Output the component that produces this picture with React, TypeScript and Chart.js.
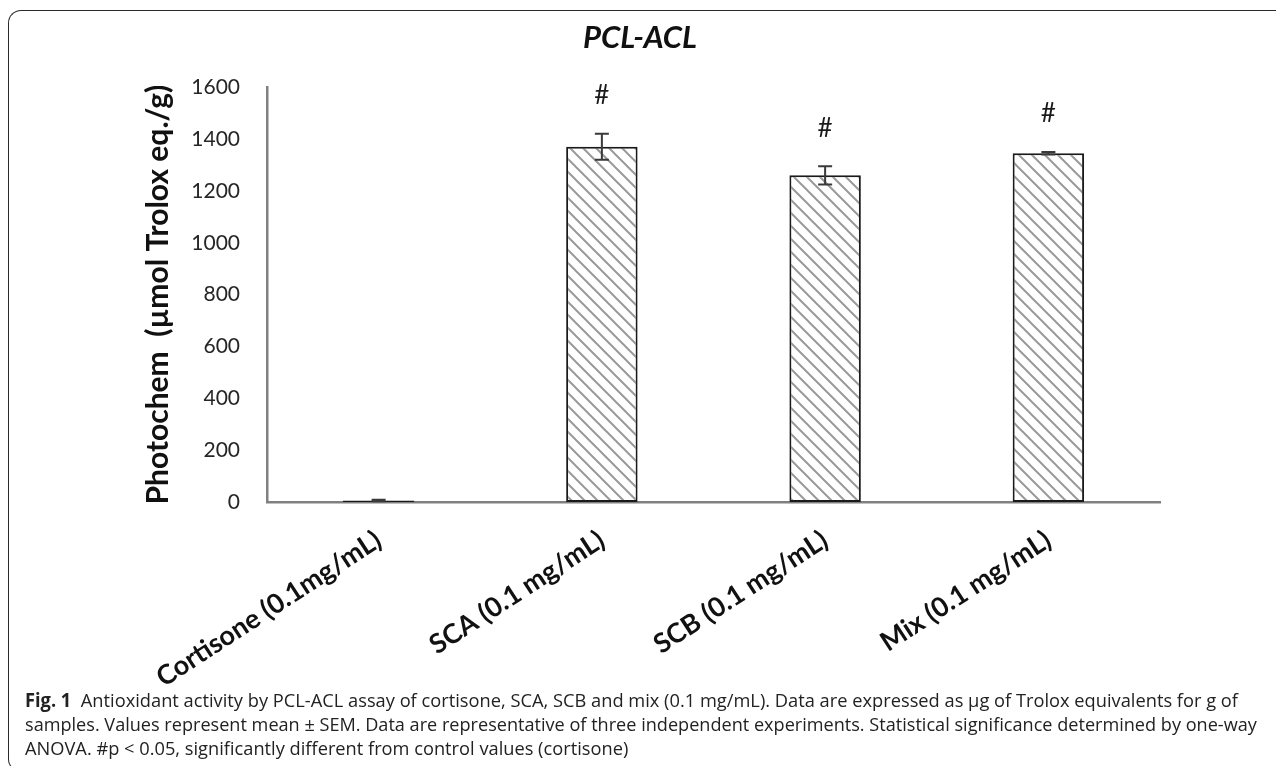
import React, { useEffect, useLayoutEffect, useRef } from "react";
import { Chart, registerables } from "chart.js";

Chart.register(...registerables);

const categories = ["Cortisone (0.1mg/mL)", "SCA (0.1 mg/mL)", "SCB (0.1 mg/mL)", "Mix (0.1 mg/mL)"];
const values = [6, 1370, 1260, 1345];
const sem = [3, 50, 35, 5];
const significance = ["", "#", "#", "#"];
const yMin = 0;
const yMax = 1600;
const yStep = 200;
const chartTitle = "PCL-ACL";
const yTitle = "Photochem  (µmol Trolox eq./g)";

const captionLines = [
  { bold: "Fig. 1", text: "  Antioxidant activity by PCL-ACL assay of cortisone, SCA, SCB and mix (0.1 mg/mL). Data are expressed as µg of Trolox equivalents for g of", width: 1213 },
  { bold: "", text: "samples. Values represent mean ± SEM. Data are representative of three independent experiments. Statistical significance determined by one-way", width: 1232 },
  { bold: "", text: "ANOVA. #p < 0.05, significantly different from control values (cortisone)", width: 603 },
];

function makeHatch(): CanvasPattern | string {
  const s = 13;
  const c = document.createElement("canvas");
  c.width = s;
  c.height = s;
  const g = c.getContext("2d");
  if (!g) return "#fff";
  g.fillStyle = "#ffffff";
  g.fillRect(0, 0, s, s);
  g.strokeStyle = "#9a9a9a";
  g.lineWidth = 2;
  g.beginPath();
  g.moveTo(-2, -2);
  g.lineTo(s + 2, s + 2);
  g.moveTo(s - 3, -3);
  g.lineTo(s + 3, 3);
  g.moveTo(-3, s - 3);
  g.lineTo(3, s + 3);
  g.stroke();
  const p = g.createPattern(c, "repeat");
  return p || "#fff";
}

const errorBarPlugin = {
  id: "errorBars",
  afterDatasetsDraw(chart: any) {
    const { ctx, scales } = chart;
    const meta = chart.getDatasetMeta(0);
    const y = scales.y;
    ctx.save();
    meta.data.forEach((bar: any, i: number) => {
      const x = bar.x;
      const top = y.getPixelForValue(values[i] + sem[i]);
      const bot = y.getPixelForValue(values[i] - sem[i]);
      ctx.strokeStyle = "#3a3a3a";
      ctx.lineWidth = 2;
      ctx.beginPath();
      ctx.moveTo(x, top);
      ctx.lineTo(x, bot);
      ctx.moveTo(x - 7, top);
      ctx.lineTo(x + 7, top);
      ctx.moveTo(x - 7, bot);
      ctx.lineTo(x + 7, bot);
      ctx.stroke();
      if (significance[i]) {
        ctx.fillStyle = "#1a1a1a";
        ctx.font = "26px Lato";
        ctx.textAlign = "center";
        ctx.textBaseline = "middle";
        ctx.fillText(significance[i], x, top - 38);
      }
    });
    ctx.restore();
  },
};

function Caption() {
  const refs = useRef<(HTMLDivElement | null)[]>([]);
  useLayoutEffect(() => {
    refs.current.forEach((el, i) => {
      if (!el) return;
      el.style.transform = "none";
      const w = el.scrollWidth;
      if (w > 0) el.style.transform = `scaleX(${captionLines[i].width / w})`;
    });
  }, []);
  return (
    <>
      {captionLines.map((l, i) => (
        <div
          key={i}
          ref={(el) => {
            refs.current[i] = el;
          }}
          style={{
            position: "absolute",
            left: 17,
            top: 680 + i * 24,
            whiteSpace: "pre",
            fontFamily: "'Open Sans', sans-serif",
            fontSize: 19,
            lineHeight: "24px",
            color: "#222",
            transformOrigin: "0 0",
            display: "inline-block",
          }}
        >
          {l.bold ? <b>{l.bold}</b> : null}
          {l.text}
        </div>
      ))}
    </>
  );
}

export default function App() {
  const canvasRef = useRef<HTMLCanvasElement | null>(null);

  useEffect(() => {
    if (!canvasRef.current) return;
    const hatch = makeHatch();
    const chart = new Chart(canvasRef.current, {
      type: "bar",
      data: {
        labels: categories,
        datasets: [
          {
            data: values,
            backgroundColor: hatch as any,
            borderColor: "#1a1a1a",
            borderWidth: 2,
            borderSkipped: false,
            categoryPercentage: 1,
            barPercentage: 0.32,
          },
        ],
      },
      options: {
        animation: false,
        responsive: true,
        maintainAspectRatio: false,
        layout: { padding: { left: 0, right: 116, top: 0, bottom: 0 } },
        plugins: {
          legend: { display: false },
          tooltip: { enabled: false },
          title: {
            display: true,
            text: chartTitle,
            color: "#111",
            font: { family: "Lato", size: 31, weight: "bold", style: "italic" },
            padding: { top: 9, bottom: 31 },
          },
        },
        scales: {
          x: {
            grid: { display: false, drawTicks: false },
            border: { display: true, color: "#808080", width: 2.5 },
            ticks: {
              autoSkip: false,
              minRotation: 33,
              maxRotation: 33,
              padding: 22,
              color: "#111",
              font: { family: "Lato", size: 27, weight: "bold" },
            },
            afterFit(scale: any) {
              scale.height = 208;
              scale.paddingLeft = 0;
              scale.paddingRight = 0;
            },
          },
          y: {
            min: yMin,
            max: yMax,
            grid: { display: false, drawTicks: false },
            border: { display: true, color: "#808080", width: 2.5 },
            ticks: {
              stepSize: yStep,
              padding: 27,
              color: "#262626",
              font: { family: "Lato", size: 21 },
              callback: (v: any) => String(v),
            },
            title: {
              display: true,
              text: yTitle,
              color: "#111",
              font: { family: "Lato", size: 30, weight: "bold" },
              padding: { top: 20, bottom: 0 },
            },
            afterFit(scale: any) {
              scale.width = 147;
            },
          },
        },
      },
      plugins: [errorBarPlugin],
    });
    return () => chart.destroy();
  }, []);

  return (
    <div style={{ position: "relative", width: 1268, height: 758 }}>
      <div
        style={{
          position: "absolute",
          left: 0,
          top: 2,
          width: 1268,
          height: 762,
          borderTop: "1.5px solid #2a2a2a",
          borderLeft: "1.5px solid #2a2a2a",
          borderBottom: "1.5px solid #2a2a2a",
          borderTopLeftRadius: 13,
          borderBottomLeftRadius: 13,
          boxSizing: "border-box",
        }}
      />
      <div style={{ position: "absolute", left: 112, top: 2, width: 1156, height: 700 }}>
        <canvas ref={canvasRef} />
      </div>
      <Caption />
    </div>
  );
}
